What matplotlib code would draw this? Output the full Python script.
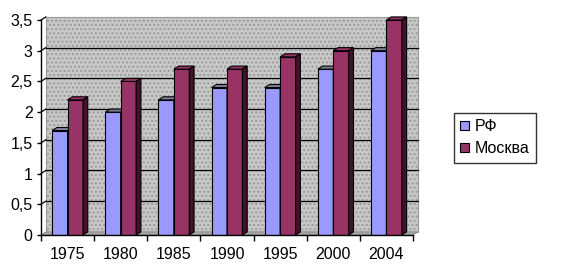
import numpy as np
import matplotlib.pyplot as plt
from matplotlib.patches import Polygon, Patch

years = ["1975", "1980", "1985", "1990", "1995", "2000", "2004"]
rf = [1.7, 2.0, 2.2, 2.4, 2.4, 2.7, 3.0]
moscow = [2.2, 2.5, 2.7, 2.7, 2.9, 3.0, 3.5]
series_names = ["РФ", "Москва"]
y_ticks = [0, 0.5, 1, 1.5, 2, 2.5, 3, 3.5]
y_labels = ["0", "0,5", "1", "1,5", "2", "2,5", "3", "3,5"]

plt.rcParams["font.family"] = ["Liberation Sans", "DejaVu Sans"]

fig = plt.figure(figsize=(5.61, 2.76), dpi=100)
ax = fig.add_axes([0.0731, 0.1486, 0.6631, 0.7789])
ax.set_xlim(0, len(years))
ax.set_ylim(0, 3.5)

# 3d depth offset in data units (~5px right, 3px up)
dx, dy = 0.09, 0.05
n = len(years)
ymax = y_ticks[-1]

# back wall and floor
wall = Polygon([(dx, dy), (n + dx, dy), (n + dx, ymax + dy), (dx, ymax + dy)],
               closed=True, facecolor="#c8c8c8", edgecolor="#999999",
               hatch="....", lw=0.8, zorder=0, clip_on=False)
ax.add_patch(wall)
floor = Polygon([(0, 0), (n, 0), (n + dx, dy), (dx, dy)], closed=True,
                facecolor="#a8a8a8", edgecolor="#808080", lw=0.6, zorder=0.5,
                clip_on=False)
ax.add_patch(floor)

# gridlines on the wall
for t in y_ticks[1:-1]:
    ax.plot([dx, n + dx], [t + dy, t + dy], color="black", lw=0.9, zorder=1,
            clip_on=False)
for t in y_ticks[1:]:
    ax.plot([0, dx], [t, t + dy], color="black", lw=0.9, zorder=1, clip_on=False)

# bars
x = np.arange(n) + 0.5
w = 0.29
colors = ["#9999ff", "#993366"]
tops = ["#7f7f9a", "#993366"]
sides = ["#4c4c80", "#3d1428"]

for i in range(n):
    for k, vals in enumerate([rf, moscow]):
        x0 = x[i] - w + k * w
        v = vals[i]
        ax.bar(x0, v, width=w, align="edge", color=colors[k], edgecolor="black",
               lw=0.8, zorder=2 + i * 2 + k)
        top = Polygon([(x0, v), (x0 + w, v), (x0 + w + dx, v + dy), (x0 + dx, v + dy)],
                      closed=True, facecolor=tops[k], edgecolor="black", lw=0.8,
                      zorder=2 + i * 2 + k, clip_on=False)
        side = Polygon([(x0 + w, 0), (x0 + w + dx, dy), (x0 + w + dx, v + dy), (x0 + w, v)],
                       closed=True, facecolor=sides[k], edgecolor="black", lw=0.8,
                       zorder=2 + i * 2 + k, clip_on=False)
        ax.add_patch(top)
        ax.add_patch(side)

# axes
for s in ["top", "right"]:
    ax.spines[s].set_visible(False)
for s in ["left", "bottom"]:
    ax.spines[s].set_color("black")
    ax.spines[s].set_linewidth(1)
    ax.spines[s].set_zorder(30)

ax.set_yticks(y_ticks)
ax.set_yticklabels(y_labels)
ax.set_xticks(x)
ax.set_xticklabels(years)
ax.set_xticks(np.arange(n + 1), minor=True)
ax.tick_params(axis="x", which="major", length=0, pad=9, labelsize=11.5)
ax.tick_params(axis="x", which="minor", length=4, direction="out", width=1)
ax.tick_params(axis="y", length=3, direction="out", width=1, pad=3, labelsize=11.5)

handles = [Patch(facecolor=colors[0], edgecolor="black", lw=0.8),
           Patch(facecolor=colors[1], edgecolor="black", lw=0.8)]
leg = fig.legend(handles, series_names, loc="upper left",
                 bbox_to_anchor=(0.809, 0.592), fontsize=11.5, frameon=True,
                 fancybox=False, handlelength=0.55, handleheight=0.55,
                 handletextpad=0.35, borderpad=0.4, labelspacing=0.45,
                 borderaxespad=0)
leg.get_frame().set_edgecolor("black")
leg.get_frame().set_linewidth(1)

fig.savefig("out.png", dpi=100)
